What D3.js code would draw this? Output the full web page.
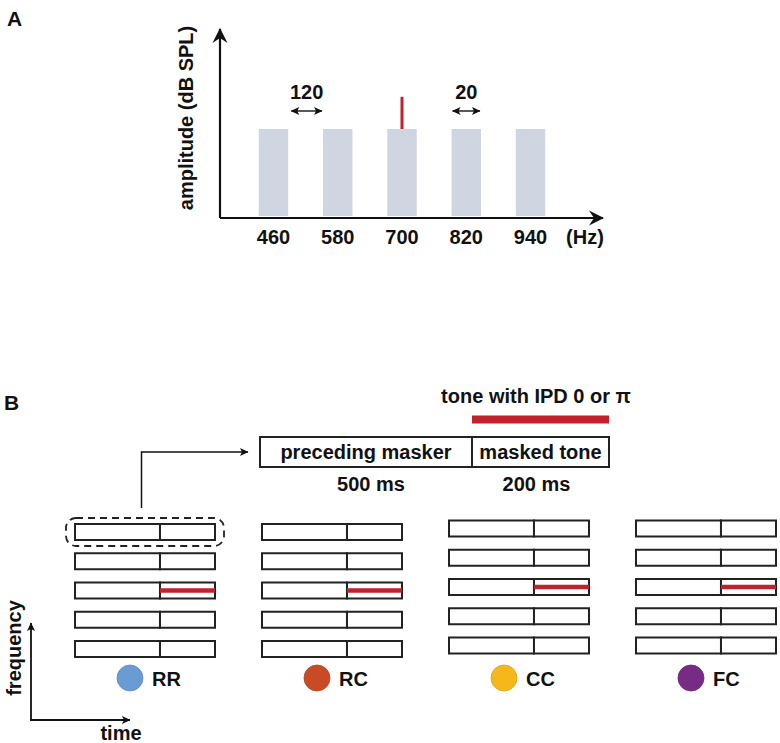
<!DOCTYPE html>
<html lang="en">
<head>
<meta charset="UTF-8">
<title>Masker and tone schematic</title>
<script src="https://cdn.jsdelivr.net/npm/d3@7/dist/d3.min.js"></script>
<style>
    body { margin: 0; padding: 0; background: #ffffff; }
    svg { display: block; }
    text {
        font-family: "Liberation Sans", Arial, sans-serif;
        font-weight: bold;
        fill: #111111;
    }
    .axis-line { stroke: #111111; stroke-width: 2.2px; fill: none; }
    .cell { fill: #ffffff; stroke: #222222; stroke-width: 2px; }
</style>
</head>
<body>
<div id="chart"></div>
<script>
    // panel A: masker bands and target tone
    const bandFreqs = [460, 580, 700, 820, 940];   // Hz, centre frequencies
    const bandLevels = [1, 1, 1, 1, 1];            // relative amplitude of each band
    const toneFreq = 700;                          // Hz
    const toneLevel = 1.37;                        // relative amplitude
    const spacingLabel = "120";
    const widthLabel = "20";

    // panel B: conditions and timing
    const conditions = ["RR", "RC", "CC", "FC"];
    const conditionColors = ["#6a9bd4", "#c94b25", "#f6b71b", "#762b84"];
    const segmentNames = ["preceding masker", "masked tone"];
    const segmentDurations = [500, 200];          // ms
    const durationLabels = ["500 ms", "200 ms"];
    const toneText = "tone with IPD 0 or \u03c0";

    var W = 780, H = 743;
    var red = "#c0212b";

    var svg = d3.select("#chart")
        .append("svg")
        .attr("width", W)
        .attr("height", H);

    // arrow markers
    var defs = svg.append("defs");
    defs.append("marker")
        .attr("id", "bigHead")
        .attr("viewBox", "-16 -8 18 16")
        .attr("refX", 0).attr("refY", 0)
        .attr("markerWidth", 18).attr("markerHeight", 16)
        .attr("markerUnits", "userSpaceOnUse")
        .attr("orient", "auto")
        .append("path")
        .attr("d", "M1,0 L-14,-7.5 L-9,0 L-14,7.5 Z")
        .attr("fill", "#111");
    defs.append("marker")
        .attr("id", "smallHead")
        .attr("viewBox", "-9 -5 10 10")
        .attr("refX", 0).attr("refY", 0)
        .attr("markerWidth", 10).attr("markerHeight", 10)
        .attr("markerUnits", "userSpaceOnUse")
        .attr("orient", "auto-start-reverse")
        .append("path")
        .attr("d", "M0.5,0 L-8,-4 L-6,0 L-8,4 Z")
        .attr("fill", "#111");

    // panel labels
    svg.append("text").attr("x", 7).attr("y", 26).style("font-size", "21px").text("A");
    svg.append("text").attr("x", 4).attr("y", 410).style("font-size", "21px").text("B");

    // ---------------- panel A ----------------
    var x = d3.scaleLinear().domain([460, 940]).range([273.5, 530.5]);
    var y = d3.scaleLinear().domain([0, 1]).range([216, 129]);
    var drawHalfBand = 55 / 2;   // drawn band half width, in Hz units
    var axisY = y(0) + 2, axisX = 220;

    var gA = svg.append("g");

    gA.selectAll("rect.band")
        .data(bandFreqs)
        .join("rect")
        .attr("class", "band")
        .attr("x", d => x(d - drawHalfBand))
        .attr("width", d => x(d + drawHalfBand) - x(d - drawHalfBand))
        .attr("y", (d, i) => y(bandLevels[i]))
        .attr("height", (d, i) => y(0) - y(bandLevels[i]))
        .attr("fill", "#cfd6e1");

    gA.append("line")
        .attr("x1", x(toneFreq)).attr("x2", x(toneFreq))
        .attr("y1", y(1)).attr("y2", y(toneLevel))
        .attr("stroke", red)
        .attr("stroke-width", 3);

    // axes with arrows
    gA.append("line").attr("class", "axis-line")
        .attr("x1", axisX).attr("y1", axisY)
        .attr("x2", axisX).attr("y2", y(2.15))
        .attr("marker-end", "url(#bigHead)");
    gA.append("line").attr("class", "axis-line")
        .attr("x1", axisX).attr("y1", axisY)
        .attr("x2", 603).attr("y2", axisY)
        .attr("marker-end", "url(#bigHead)");

    gA.selectAll("text.tick")
        .data(bandFreqs)
        .join("text")
        .attr("class", "tick")
        .attr("x", d => x(d))
        .attr("y", 244)
        .attr("text-anchor", "middle")
        .style("font-size", "20px")
        .text(d => d);
    gA.append("text")
        .attr("x", 585).attr("y", 244)
        .attr("text-anchor", "middle")
        .style("font-size", "20px")
        .text("(Hz)");

    gA.append("text")
        .attr("transform", "translate(193,118) rotate(-90)")
        .attr("text-anchor", "middle")
        .style("font-size", "20px")
        .text("amplitude (dB SPL)");

    // spacing and bandwidth annotations
    var annos = [
        { label: spacingLabel, x1: x(bandFreqs[0] + drawHalfBand) + 2, x2: x(bandFreqs[1] - drawHalfBand) },
        { label: widthLabel, x1: x(bandFreqs[3] - drawHalfBand), x2: x(bandFreqs[3] + drawHalfBand) }
    ];
    annos.forEach(function(a) {
        gA.append("line")
            .attr("x1", a.x1 + 1).attr("x2", a.x2 - 1)
            .attr("y1", 111).attr("y2", 111)
            .attr("stroke", "#111").attr("stroke-width", 1.4)
            .attr("marker-start", "url(#smallHead)")
            .attr("marker-end", "url(#smallHead)");
        gA.append("text")
            .attr("x", (a.x1 + a.x2) / 2).attr("y", 99)
            .attr("text-anchor", "middle")
            .style("font-size", "20px")
            .text(a.label);
    });

    // ---------------- panel B ----------------
    var tEdges = [0, segmentDurations[0], segmentDurations[0] + segmentDurations[1]];
    var tTop = d3.scaleLinear().domain(tEdges).range([260, 472, 609]);
    var boxTop = 437, boxH = 30;

    var gB = svg.append("g");

    gB.append("text")
        .attr("x", 536).attr("y", 403)
        .attr("text-anchor", "middle")
        .style("font-size", "20px")
        .text(toneText);
    gB.append("rect")
        .attr("x", tTop(tEdges[1])).attr("y", 415.5)
        .attr("width", tTop(tEdges[2]) - tTop(tEdges[1]))
        .attr("height", 8)
        .attr("fill", red);

    gB.selectAll("rect.seg")
        .data(segmentDurations)
        .join("rect")
        .attr("class", "cell seg")
        .attr("x", (d, i) => tTop(tEdges[i]))
        .attr("y", boxTop)
        .attr("width", (d, i) => tTop(tEdges[i + 1]) - tTop(tEdges[i]))
        .attr("height", boxH);
    gB.selectAll("text.segname")
        .data(segmentNames)
        .join("text")
        .attr("class", "segname")
        .attr("x", (d, i) => (tTop(tEdges[i]) + tTop(tEdges[i + 1])) / 2)
        .attr("y", boxTop + 22)
        .attr("text-anchor", "middle")
        .style("font-size", "20px")
        .text(d => d);
    gB.selectAll("text.dur")
        .data(durationLabels)
        .join("text")
        .attr("class", "dur")
        .attr("x", (d, i) => (tTop(tEdges[i]) + tTop(tEdges[i + 1])) / 2 + (i === 0 ? 5 : -4))
        .attr("y", 491)
        .attr("text-anchor", "middle")
        .style("font-size", "20px")
        .text(d => d);

    // condition panels
    var px = d3.scaleBand().domain(conditions).range([75, 776]).paddingInner(0.2513);
    var rowsDomain = bandFreqs.slice().reverse();   // high frequency on top
    var rowBase = d3.scaleBand().domain(rowsDomain).range([524, 657]).paddingInner(0.453);

    conditions.forEach(function(c, ci) {
        var x0 = px(c), pw = px.bandwidth();
        var shift = ci >= 2 ? -3.5 : 0;
        var t = d3.scaleLinear().domain(tEdges).range([x0, x0 + pw * 0.607, x0 + pw]);
        var g = gB.append("g").attr("transform", "translate(0," + shift + ")");

        rowsDomain.forEach(function(f) {
            var ry = rowBase(f), rh = rowBase.bandwidth();
            g.selectAll(null)
                .data(segmentDurations)
                .join("rect")
                .attr("class", "cell")
                .attr("x", (d, i) => t(tEdges[i]))
                .attr("y", ry)
                .attr("width", (d, i) => t(tEdges[i + 1]) - t(tEdges[i]))
                .attr("height", rh);
            if (f === toneFreq) {
                g.append("line")
                    .attr("x1", t(tEdges[1])).attr("x2", t(tEdges[2]))
                    .attr("y1", ry + rh / 2).attr("y2", ry + rh / 2)
                    .attr("stroke", red)
                    .attr("stroke-width", 4.5);
            }
        });

        gB.append("circle")
            .attr("cx", x0 + 55).attr("cy", 678).attr("r", 13)
            .attr("fill", conditionColors[ci])
            .attr("stroke", d3.color(conditionColors[ci]).darker(0.3))
            .attr("stroke-width", 0.8);
        gB.append("text")
            .attr("x", x0 + 77).attr("y", 685.5)
            .style("font-size", "20px")
            .text(c);
    });

    // dashed outline round first RR row and connector to the enlarged box
    var firstRow = rowBase(rowsDomain[0]);
    gB.append("rect")
        .attr("x", px("RR") - 9).attr("y", firstRow - 6)
        .attr("width", px.bandwidth() + 18).attr("height", rowBase.bandwidth() + 12)
        .attr("rx", 10)
        .attr("fill", "none")
        .attr("stroke", "#222").attr("stroke-width", 1.8)
        .attr("stroke-dasharray", "7,5");
    var cx = px("RR") + px.bandwidth() * 0.475;
    gB.append("path")
        .attr("d", "M" + cx + "," + (firstRow - 16) + " V" + (boxTop + boxH / 2) + " H" + (tTop(0) - 12))
        .attr("fill", "none")
        .attr("stroke", "#111").attr("stroke-width", 1.5)
        .attr("marker-end", "url(#smallHead)");

    // frequency / time axes
    gB.append("path")
        .attr("d", "M31,720 V623")
        .attr("fill", "none").attr("stroke", "#111").attr("stroke-width", 1.8)
        .attr("marker-end", "url(#smallHead)");
    gB.append("path")
        .attr("d", "M30,720 H130")
        .attr("fill", "none").attr("stroke", "#111").attr("stroke-width", 1.8)
        .attr("marker-end", "url(#smallHead)");
    gB.append("text")
        .attr("transform", "translate(21,648) rotate(-90)")
        .attr("text-anchor", "middle")
        .style("font-size", "20px")
        .text("frequency");
    gB.append("text")
        .attr("x", 121).attr("y", 740)
        .attr("text-anchor", "middle")
        .style("font-size", "20px")
        .text("time");
</script>
</body>
</html>
